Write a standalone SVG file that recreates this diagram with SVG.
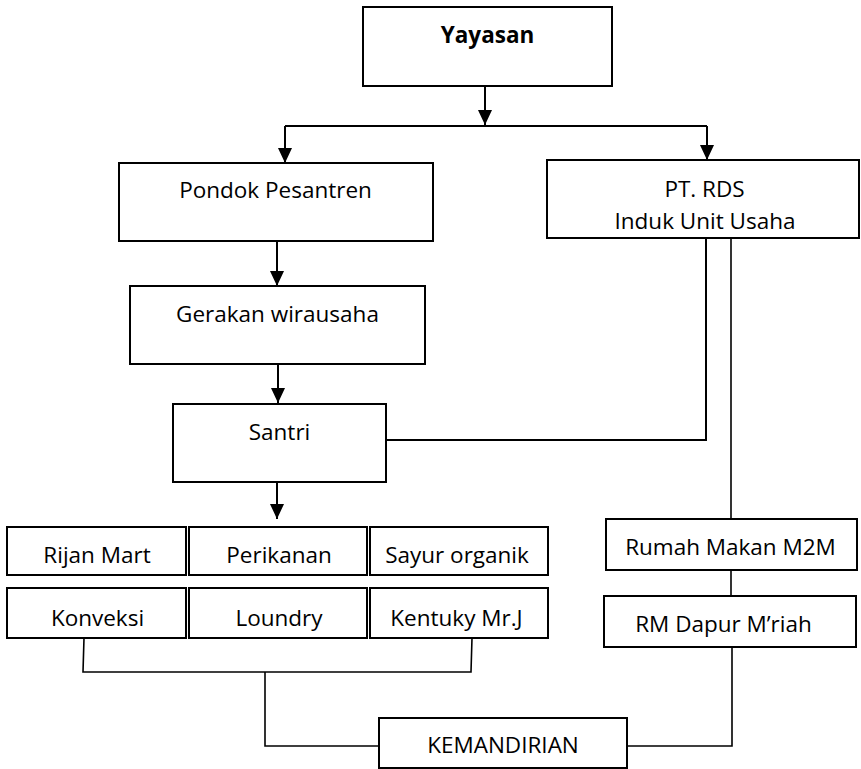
<svg xmlns="http://www.w3.org/2000/svg" width="861" height="769" viewBox="0 0 861 769">
<style>
.box{fill:#fff;stroke:#000;stroke-width:2}
.t{font-family:"Open Sans","Noto Sans","Liberation Sans",sans-serif;font-size:22.5px;fill:#000;text-anchor:middle}
.b{font-weight:bold}
.ar{fill:none;stroke:#000;stroke-width:2}
.arr{marker-end:url(#ah)}
.ln{fill:none;stroke:#000;stroke-width:1.6}
</style>
<defs>
<marker id="ah" markerUnits="userSpaceOnUse" markerWidth="15" markerHeight="14" refX="15" refY="7" orient="auto" viewBox="0 0 15 14">
<path d="M0,0 L15,7 L0,14 Z" fill="#000"/>
</marker>
</defs>
<g id="connectors">
<path class="ar arr" d="M485,86 V125"/>
<path class="ar" d="M285,126 H707"/>
<path class="ar arr" d="M285,126 V163"/>
<path class="ar arr" d="M707,126 V160"/>
<path class="ar arr" d="M277,241 V286"/>
<path class="ar arr" d="M278,364 V403"/>
<path class="ar arr" d="M277,482 V519"/>
<path class="ar" d="M706,238 V440 H386"/>
<path class="ln" d="M731,238 V519"/>
<path class="ln" d="M731,570 V596"/>
<path class="ln" d="M732,647 V746 H627"/>
<path class="ln" d="M84,638 L83,672 H471 L472,638"/>
<path class="ln" d="M265,672 V746 H379"/>
</g>
<g id="yayasan"><rect class="box" x="363" y="7" width="249" height="79"/><text class="t b" x="487.5" y="43">Yayasan</text></g>
<g id="pondok"><rect class="box" x="119" y="163" width="314" height="78"/><text class="t" x="275.5" y="198">Pondok Pesantren</text></g>
<g id="ptrds"><rect class="box" x="547" y="160" width="312" height="78"/><text class="t" x="704.5" y="197">PT. RDS</text><text class="t" x="705" y="229">Induk Unit Usaha</text></g>
<g id="gerakan"><rect class="box" x="130" y="286" width="295" height="78"/><text class="t" x="277.5" y="322">Gerakan wirausaha</text></g>
<g id="santri"><rect class="box" x="173" y="404" width="213" height="78"/><text class="t" x="279.5" y="440">Santri</text></g>
<g id="rijan"><rect class="box" x="7" y="527" width="179" height="48"/><text class="t" x="97" y="563">Rijan Mart</text></g>
<g id="perikanan"><rect class="box" x="189" y="527" width="178" height="48"/><text class="t" x="279" y="563">Perikanan</text></g>
<g id="sayur"><rect class="box" x="370" y="527" width="178" height="48"/><text class="t" x="457" y="563">Sayur organik</text></g>
<g id="konveksi"><rect class="box" x="7" y="588" width="179" height="50"/><text class="t" x="97.5" y="626">Konveksi</text></g>
<g id="loundry"><rect class="box" x="189" y="588" width="178" height="50"/><text class="t" x="279" y="626">Loundry</text></g>
<g id="kentuky"><rect class="box" x="370" y="588" width="178" height="50"/><text class="t" x="456.5" y="626">Kentuky Mr.J</text></g>
<g id="rumahmakan"><rect class="box" x="606" y="519" width="251" height="51"/><text class="t" x="730.5" y="555">Rumah Makan M2M</text></g>
<g id="rmdapur"><rect class="box" x="604" y="596" width="252" height="51"/><text class="t" x="723.5" y="632">RM Dapur M’riah</text></g>
<g id="kemandirian"><rect class="box" x="379" y="718" width="248" height="50"/><text class="t" x="503" y="753">KEMANDIRIAN</text></g>
</svg>
